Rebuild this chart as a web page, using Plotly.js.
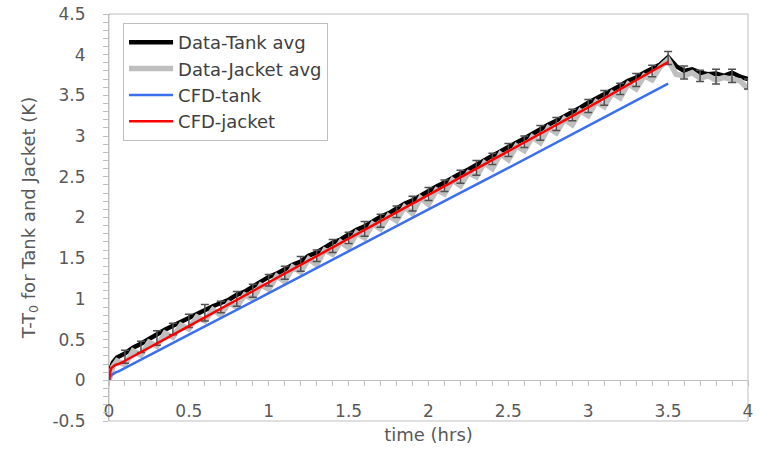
<!DOCTYPE html>
<html>
<head>
<meta charset="utf-8">
<script src="https://cdn.plot.ly/plotly-3.0.1.min.js"></script>
<style>html,body{margin:0;padding:0;background:#fff;}#chart{width:768px;height:452px;}</style>
</head>
<body>
<div id="chart"></div>
<script>
// ---- Data ----
const tankX = [0,0.01,0.025,0.05,0.10,0.15,0.20,0.25,0.30,0.35,0.40,0.45,0.50,0.55,0.60,0.65,0.70,0.75,0.80,0.85,0.90,0.95,1.00,1.05,1.10,1.15,1.20,1.25,1.30,1.35,1.40,1.45,1.50,1.55,1.60,1.65,1.70,1.75,1.80,1.85,1.90,1.95,2.00,2.05,2.10,2.15,2.20,2.25,2.30,2.35,2.40,2.45,2.50,2.55,2.60,2.65,2.70,2.75,2.80,2.85,2.90,2.95,3.00,3.05,3.10,3.15,3.20,3.25,3.30,3.35,3.40,3.45,3.50,3.55,3.60,3.65,3.70,3.75,3.80,3.85,3.90,3.95,4.00];
const tankY = [0,0.14,0.22,0.28,0.33,0.40,0.45,0.51,0.56,0.62,0.67,0.72,0.77,0.82,0.87,0.91,0.95,0.99,1.05,1.09,1.15,1.21,1.27,1.31,1.37,1.42,1.46,1.53,1.57,1.63,1.69,1.73,1.79,1.85,1.89,1.95,2.01,2.05,2.11,2.17,2.21,2.27,2.33,2.38,2.43,2.49,2.54,2.59,2.65,2.70,2.76,2.81,2.87,2.92,2.97,3.03,3.08,3.14,3.19,3.24,3.30,3.35,3.41,3.46,3.51,3.57,3.62,3.68,3.72,3.78,3.83,3.88,3.97,3.86,3.80,3.82,3.78,3.76,3.77,3.74,3.78,3.73,3.70];

const jacketX = tankX;
const jacketY = [0,0.10,0.17,0.24,0.19,0.36,0.31,0.47,0.42,0.58,0.53,0.68,0.63,0.78,0.73,0.87,0.80,0.95,0.90,1.05,1.00,1.17,1.12,1.28,1.21,1.39,1.33,1.49,1.42,1.60,1.55,1.70,1.63,1.81,1.75,1.92,1.86,2.02,1.96,2.13,2.05,2.24,2.16,2.34,2.29,2.46,2.39,2.55,2.50,2.67,2.60,2.78,2.71,2.88,2.82,2.99,2.92,3.10,3.04,3.21,3.14,3.31,3.25,3.42,3.36,3.53,3.47,3.64,3.58,3.74,3.69,3.85,3.94,3.76,3.74,3.78,3.71,3.74,3.69,3.72,3.70,3.68,3.58];

const errX = [0.1,0.2,0.3,0.4,0.5,0.6,0.7,0.8,0.9,1.0,1.1,1.2,1.3,1.4,1.5,1.6,1.7,1.8,1.9,2.0,2.1,2.2,2.3,2.4,2.5,2.6,2.7,2.8,2.9,3.0,3.1,3.2,3.3,3.4,3.5,3.6,3.7,3.8,3.9,4.0];
const errY = [0.29,0.41,0.52,0.63,0.73,0.83,0.90,1.00,1.10,1.23,1.32,1.43,1.53,1.65,1.75,1.86,1.96,2.07,2.17,2.29,2.39,2.50,2.61,2.72,2.83,2.93,3.04,3.15,3.26,3.37,3.47,3.58,3.69,3.80,3.96,3.78,3.74,3.73,3.74,3.64];
const errV = [0.08,0.07,0.09,0.07,0.08,0.10,0.07,0.09,0.08,0.07,0.08,0.09,0.07,0.08,0.07,0.09,0.08,0.07,0.09,0.08,0.07,0.08,0.09,0.07,0.08,0.07,0.09,0.08,0.07,0.08,0.09,0.07,0.08,0.07,0.08,0.08,0.07,0.09,0.08,0.06];

const cfdTankX = [0,0.005,0.01,0.02,0.03,0.045,0.06,0.08,0.10,0.20,0.50,1.00,1.50,2.00,2.50,3.00,3.50];
const cfdTankY = [0,0.03,0.05,0.07,0.085,0.10,0.11,0.13,0.15,0.25,0.56,1.07,1.59,2.10,2.61,3.13,3.645];

const cfdJacketX = [0,0.003,0.008,0.015,0.025,0.04,0.06,0.10,0.50,1.00,1.50,2.00,2.50,3.00,3.50];
const cfdJacketY = [0,0.06,0.11,0.15,0.17,0.19,0.20,0.24,0.666,1.203,1.74,2.278,2.816,3.353,3.91];

const yTickVals = [-0.5,0,0.5,1,1.5,2,2.5,3,3.5,4,4.5];
const yTickText = ['-0.5','0','0.5','1','1.5','2','2.5','3','3.5','4','4.5'];
const xTickVals = [0,0.5,1,1.5,2,2.5,3,3.5,4];
const xTickText = ['0','0.5','1','1.5','2','2.5','3','3.5','4'];

const names = ['Data-Tank avg','Data-Jacket avg','CFD-tank','CFD-jacket'];

// ---- Traces ----
const FONT = 'DejaVu Sans';
const AX = '#bfbfbf';
const traces = [
  {x: tankX, y: tankY, name: names[0], mode: 'lines', line: {color: '#000000', width: 4.5}},
  {x: jacketX, y: jacketY, name: names[1], mode: 'lines', line: {color: '#bfbfbf', width: 5.5}},
  {x: errX, y: errY, mode: 'markers', showlegend: false, hoverinfo: 'skip',
   marker: {size: 1, color: 'rgba(0,0,0,0)'},
   error_y: {type: 'data', array: errV, visible: true, color: '#505050', thickness: 1.5, width: 4}},
  {x: cfdTankX, y: cfdTankY, name: names[2], mode: 'lines', line: {color: '#3b6ff0', width: 2.5}},
  {x: cfdJacketX, y: cfdJacketY, name: names[3], mode: 'lines', line: {color: '#ff0000', width: 2.5}}
];

const layout = {
  width: 768, height: 452,
  margin: {l: 109, r: 20, t: 14, b: 31},
  paper_bgcolor: '#ffffff', plot_bgcolor: '#ffffff',
  font: {family: FONT, size: 17, color: '#595959'},
  showlegend: true,
  legend: {x: 0.022, y: 0.978, xanchor: 'left', yanchor: 'top', bgcolor: '#ffffff',
           bordercolor: AX, borderwidth: 1, itemwidth: 44,
           font: {family: FONT, size: 18, color: '#404040'}},
  xaxis: {range: [0, 4], anchor: 'free', position: 0.1, showline: true, linecolor: AX, linewidth: 1,
          ticks: 'outside', ticklen: 5, tickcolor: AX, tickvals: xTickVals, ticktext: xTickText,
          minor: {dtick: 0.1, tick0: 0, ticks: 'outside', ticklen: 5, tickcolor: AX, showgrid: false},
          showgrid: false, zeroline: false, ticklabelstandoff: 10,
          tickfont: {family: FONT, size: 17, color: '#595959'},
          title: {text: 'time (hrs)', standoff: 8, font: {family: FONT, size: 18, color: '#595959'}}},
  yaxis: {range: [-0.5, 4.5], showline: true, linecolor: AX, linewidth: 1,
          ticks: 'outside', ticklen: 5, tickcolor: AX, tickvals: yTickVals, ticktext: yTickText,
          minor: {dtick: 0.1, tick0: 0, ticks: 'outside', ticklen: 5, tickcolor: AX, showgrid: false},
          showgrid: false, zeroline: false, ticklabelstandoff: 14,
          tickfont: {family: FONT, size: 17, color: '#595959'},
          title: {text: 'T-T<sub>0</sub> for Tank and Jacket (K)', standoff: 12, font: {family: FONT, size: 18, color: '#595959'}}},
  shapes: [{type: 'rect', xref: 'paper', yref: 'paper', x0: 0, x1: 1, y0: 0, y1: 1,
            line: {color: AX, width: 1}, layer: 'below'}]
};

Plotly.newPlot('chart', traces, layout, {displayModeBar: false, staticPlot: true});
</script>
</body>
</html>
